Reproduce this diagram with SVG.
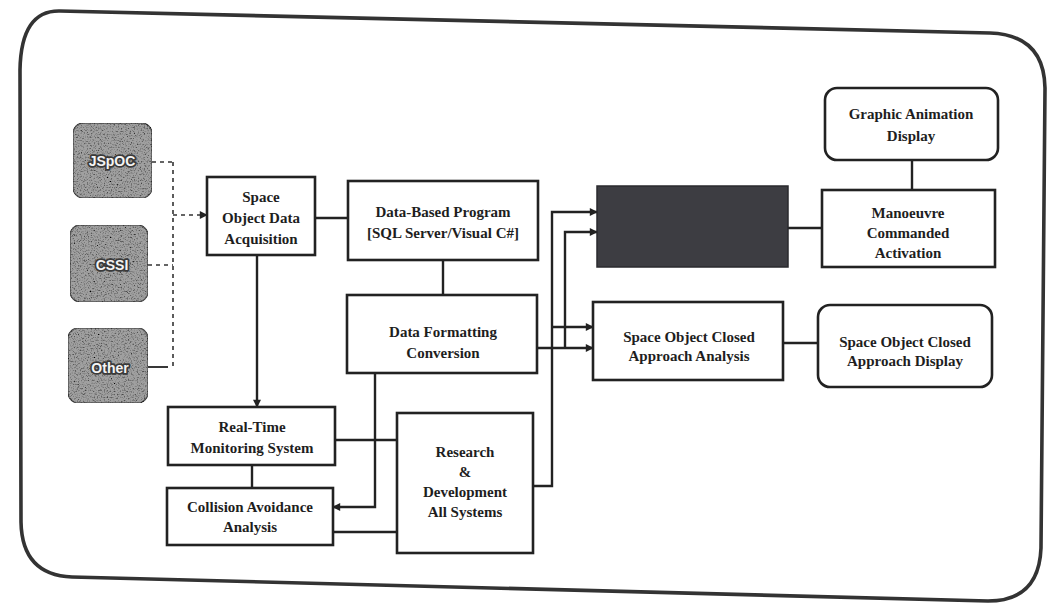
<svg xmlns="http://www.w3.org/2000/svg" width="1051" height="606" viewBox="0 0 1051 606">
  <defs>
    <style>
      .box { fill: #ffffff; stroke: #222; stroke-width: 2.6; }
      .lbl { font-family: "Liberation Serif", "DejaVu Serif", serif; font-weight: bold; font-size: 15px; fill: #1e1e1e; text-anchor: middle; }
      .src { font-family: "Liberation Sans", Arial, sans-serif; font-weight: bold; font-size: 14px; fill: #f4f4f4; text-anchor: middle; stroke: #3a3a3a; stroke-width: 3.5; paint-order: stroke; stroke-linejoin: round; }
      .conn { fill: none; stroke: #222; stroke-width: 2.4; }
      .dash { fill: none; stroke: #333; stroke-width: 1.6; stroke-dasharray: 4 4; }
      .gray { fill: #a0a0a0; stroke: #555; stroke-width: 1.5; }
    </style>
    <marker id="arr" viewBox="0 0 10 10" refX="9" refY="5" markerWidth="9" markerHeight="8" markerUnits="userSpaceOnUse" orient="auto">
      <path d="M0,0 L10,5 L0,10 Z" fill="#222"/>
    </marker>
    <filter id="speckle" x="0" y="0" width="100%" height="100%">
      <feTurbulence type="fractalNoise" baseFrequency="0.7" numOctaves="2" seed="7" result="n"/>
      <feColorMatrix in="n" type="matrix" values="2.6 0 0 0 -0.35  2.6 0 0 0 -0.35  2.6 0 0 0 -0.35  0 0 0 0 1" result="g"/>
      <feComposite in="g" in2="SourceGraphic" operator="in" result="gi"/>
      <feBlend in="gi" in2="SourceGraphic" mode="multiply" result="m"/>
      <feComposite in="m" in2="SourceGraphic" operator="in"/>
    </filter>
  </defs>

  <rect width="1051" height="606" fill="#ffffff"/>

  <!-- outer frame -->
  <path d="M 60,11 L 990,33 Q 1044,35 1045,88 L 1041,548 Q 1039,601 988,601 L 72,577 Q 22,575 21,522 L 20,70 Q 21,10 60,11 Z" fill="none" stroke="#333" stroke-width="3.6"/>

  <!-- connectors -->
  <g id="connectors">
    <path class="dash" d="M152,162 H173"/>
    <path class="dash" d="M148,265 H173"/>
    <path class="conn" d="M147,367 H168" style="stroke-width:1.8"/>
    <path class="dash" d="M173,162 V367"/>
    <path class="dash" d="M173,215 H207" marker-end="url(#arr)"/>
    <path class="conn" d="M315,218 H348"/>
    <path class="conn" d="M443,260 V295"/>
    <path class="conn" d="M257,255 V407" marker-end="url(#arr)"/>
    <path class="conn" d="M252,465 V488"/>
    <path class="conn" d="M335,440 H397"/>
    <path class="conn" d="M333,532 H397"/>
    <path class="conn" d="M375,373 V507 H333" marker-end="url(#arr)"/>
    <path class="conn" d="M533,486 H552 V212 H597" marker-end="url(#arr)"/>
    <path class="conn" d="M552,327 H593" marker-end="url(#arr)"/>
    <path class="conn" d="M537,348 H593" marker-end="url(#arr)"/>
    <path class="conn" d="M565,348 V232 H597" marker-end="url(#arr)"/>
    <path class="conn" d="M788,228 H822"/>
    <path class="conn" d="M912,160 V190"/>
    <path class="conn" d="M783,343 H818"/>
  </g>

  <!-- source nodes -->
  <g id="src-jspoc">
    <rect class="gray" x="73" y="123" width="79" height="75" rx="10" filter="url(#speckle)"/>
    <text class="src" x="112" y="166">JSpOC</text>
  </g>
  <g id="src-cssi">
    <rect class="gray" x="70" y="225" width="78" height="77" rx="10" filter="url(#speckle)"/>
    <text class="src" x="112" y="270">CSSI</text>
  </g>
  <g id="src-other">
    <rect class="gray" x="68" y="328" width="80" height="75" rx="10" filter="url(#speckle)"/>
    <text class="src" x="110" y="373">Other</text>
  </g>

  <g id="soda">
    <rect class="box" x="207" y="177" width="108" height="78"/>
    <text class="lbl" x="261" y="202">Space</text>
    <text class="lbl" x="261" y="223">Object Data</text>
    <text class="lbl" x="261" y="244">Acquisition</text>
  </g>
  <g id="dbp">
    <rect class="box" x="348" y="181" width="190" height="79"/>
    <text class="lbl" x="443" y="217">Data-Based Program</text>
    <text class="lbl" x="443" y="238">[SQL Server/Visual C#]</text>
  </g>
  <g id="dfc">
    <rect class="box" x="347" y="295" width="190" height="78"/>
    <text class="lbl" x="443" y="337">Data Formatting</text>
    <text class="lbl" x="443" y="358">Conversion</text>
  </g>
  <g id="blackbox">
    <rect x="597" y="186" width="191" height="81" fill="#3d3d42" stroke="#2a2a2e" stroke-width="1.5"/>
  </g>
  <g id="gad">
    <rect class="box" x="825" y="88" width="173" height="72" rx="12"/>
    <text class="lbl" x="911" y="119">Graphic Animation</text>
    <text class="lbl" x="911" y="141">Display</text>
  </g>
  <g id="mca">
    <rect class="box" x="822" y="190" width="173" height="77"/>
    <text class="lbl" x="908" y="218">Manoeuvre</text>
    <text class="lbl" x="908" y="238">Commanded</text>
    <text class="lbl" x="908" y="258">Activation</text>
  </g>
  <g id="socaa">
    <rect class="box" x="593" y="302" width="190" height="78"/>
    <text class="lbl" x="689" y="342">Space Object Closed</text>
    <text class="lbl" x="689" y="361">Approach Analysis</text>
  </g>
  <g id="socad">
    <rect class="box" x="818" y="305" width="174" height="82" rx="12"/>
    <text class="lbl" x="905" y="347">Space Object Closed</text>
    <text class="lbl" x="905" y="366">Approach Display</text>
  </g>
  <g id="rtms">
    <rect class="box" x="168" y="407" width="167" height="58"/>
    <text class="lbl" x="252" y="432">Real-Time</text>
    <text class="lbl" x="252" y="453">Monitoring System</text>
  </g>
  <g id="caa">
    <rect class="box" x="167" y="488" width="166" height="57"/>
    <text class="lbl" x="250" y="512">Collision Avoidance</text>
    <text class="lbl" x="250" y="532">Analysis</text>
  </g>
  <g id="rnd">
    <rect class="box" x="397" y="413" width="136" height="140"/>
    <text class="lbl" x="465" y="457">Research</text>
    <text class="lbl" x="465" y="477">&amp;</text>
    <text class="lbl" x="465" y="497">Development</text>
    <text class="lbl" x="465" y="517">All Systems</text>
  </g>
</svg>
